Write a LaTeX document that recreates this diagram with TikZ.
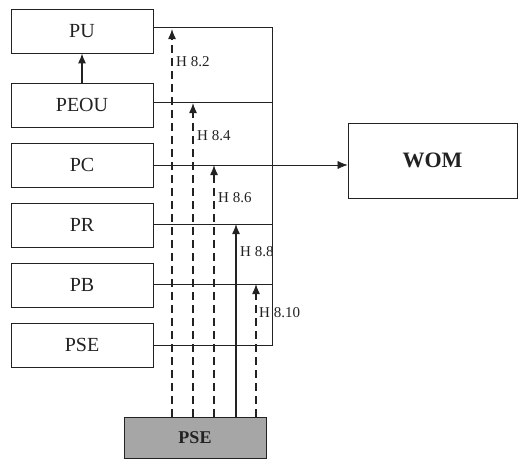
\documentclass[tikz,border=0pt]{standalone}
\usepackage{fontspec}
\setmainfont{Liberation Serif}
\usepackage{tikz}
\usetikzlibrary{positioning,arrows.meta,calc}
\usepackage{xcolor}
\definecolor{inkblack}{HTML}{222222}
\definecolor{baseGray}{HTML}{A6A6A6}

\begin{document}
\begin{tikzpicture}[x=1pt,y=-1pt,
      construct/.style={draw=inkblack,line width=0.7pt,minimum width=142pt,minimum height=44pt,
                  inner sep=0pt,font=\fontsize{20}{22}\selectfont\color{inkblack}},
      outcome/.style={draw=inkblack,line width=0.7pt,minimum width=169pt,minimum height=75pt,
                  inner sep=0pt,font=\fontsize{22}{24}\selectfont\bfseries\color{inkblack}},
      base/.style={draw=inkblack,line width=0.7pt,fill=baseGray,minimum width=142pt,minimum height=41pt,
                  inner sep=0pt,font=\fontsize{18}{20}\selectfont\bfseries\color{inkblack}},
      hyp/.style={anchor=west,inner sep=0pt,font=\fontsize{15}{16}\selectfont\color{inkblack}},
      link/.style={line width=0.6pt,inkblack},
      arr/.style={-{Latex[length=10pt,width=8pt]},line width=1.3pt,inkblack},
      dasharr/.style={arr,dash pattern=on 8pt off 5pt}]
    \useasboundingbox (0,0) rectangle (518,459);

    % construct boxes on the left
    \node[construct] (pu)   at (82,31)  {PU};
    \node[construct] (peou) at (82,105) {PEOU};
    \node[construct] (pc)   at (82,165) {PC};
    \node[construct] (pr)   at (82,225) {PR};
    \node[construct] (pb)   at (82,285) {PB};
    \node[construct] (pse)  at (82,345) {PSE};
    \node[outcome] (wom) at (432.5,160.5) {WOM};
    \node[base] (pse2) at (195,437.5) {PSE};

    % joining lines
    \coordinate (rail) at (272,0);
    \draw[link] ([yshift=4pt]pu.east) -- ([yshift=4pt]pu.east -| rail) -- (pse.east -| rail) -- (pse.east);
    \draw[link] ([yshift=3pt]peou.east) -- ([yshift=3pt]peou.east -| rail);
    \draw[link] ([yshift=1pt]pr.east) -- ([yshift=1pt]pr.east -| rail);
    \draw[link] ([yshift=1pt]pb.east) -- ([yshift=1pt]pb.east -| rail);
    \draw[link,-{Latex[length=10pt,width=8pt]}] (pc.east) -- (pc.east -| wom.west);
    \draw[arr] (peou) -- (pu);

    % hypotheses
    \coordinate (h2)  at (172,0);
    \coordinate (h4)  at (193,0);
    \coordinate (h6)  at (214,0);
    \coordinate (h8)  at (236,0);
    \coordinate (h10) at (256,0);
    \draw[dasharr] (h2 |- pse2.north)  -- ([yshift=2pt]h2 |- pu.east);
    \draw[dasharr] (h4 |- pse2.north)  -- ([yshift=2pt]h4 |- peou.east);
    \draw[dasharr] (h6 |- pse2.north)  -- (h6 |- pc.east);
    \draw[arr]     (h8 |- pse2.north)  -- ([yshift=1pt]h8 |- pr.east);
    \draw[dasharr] (h10 |- pse2.north) -- ([yshift=1pt]h10 |- pb.east);
    \node[hyp] (l2)  at (176,62)  {H 8.2};
    \node[hyp] (l4)  at (197,136) {H 8.4};
    \node[hyp] (l6)  at (218,198) {H 8.6};
    \node[hyp] (l8)  at (240,252) {H 8.8};
    \node[hyp] (l10) at (259,313) {H 8.10};
  \end{tikzpicture}
\end{document}
